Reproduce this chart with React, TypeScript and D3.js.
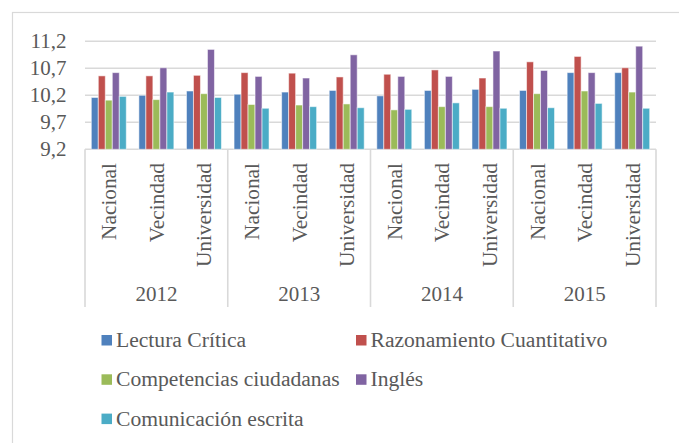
import { useEffect, useRef } from 'react'
import * as d3 from 'd3'

const years = ['2012', '2013', '2014', '2015']
const groups = ['Nacional', 'Vecindad', 'Universidad']
const yTicks = [9.2, 9.7, 10.2, 10.7, 11.2]

const seriesNames = [
  'Lectura Crítica',
  'Razonamiento Cuantitativo',
  'Competencias ciudadanas',
  'Inglés',
  'Comunicación escrita',
]
const seriesColors = ['#4F81BD', '#C0504D', '#9BBB59', '#8064A2', '#4BACC6']

// order: 2012 N,V,U, 2013 N,V,U, 2014 N,V,U, 2015 N,V,U
const lectura = [10.16, 10.2, 10.28, 10.22, 10.26, 10.29, 10.19, 10.29, 10.31, 10.29, 10.62, 10.62]
const razonamiento = [10.56, 10.56, 10.57, 10.62, 10.61, 10.54, 10.59, 10.67, 10.52, 10.82, 10.92, 10.71]
const competencias = [10.11, 10.12, 10.23, 10.03, 10.02, 10.04, 9.93, 9.99, 9.99, 10.23, 10.28, 10.26]
const ingles = [10.62, 10.71, 11.05, 10.55, 10.52, 10.95, 10.55, 10.55, 11.02, 10.66, 10.62, 11.11]
const comunicacion = [10.18, 10.26, 10.16, 9.96, 9.99, 9.97, 9.94, 10.06, 9.96, 9.97, 10.05, 9.96]

const seriesValues = [lectura, razonamiento, competencias, ingles, comunicacion]

export default function App() {
  const svgRef = useRef<SVGSVGElement>(null)

  useEffect(() => {
    const width = 679, height = 443
    const font = '"Liberation Serif", "Times New Roman", serif'
    const textColor = '#595959'
    const gridColor = '#d9d9d9'

    const svg = d3.select(svgRef.current)
    svg.selectAll('*').remove()
    svg.attr('width', width).attr('height', height)

    svg.append('rect')
      .attr('width', width).attr('height', height).attr('fill', 'white')

    // outer frame (right/bottom edges fall off the picture)
    svg.append('rect')
      .attr('x', 12.5).attr('y', 12.5)
      .attr('width', 720).attr('height', 520)
      .attr('fill', 'none').attr('stroke', gridColor).attr('stroke-width', 1.2)

    const left = 85, right = 656, top = 41.3, bottom = 149.3

    const categories = years.flatMap(y => groups.map(g => `${y}-${g}`))
    const x = d3.scaleBand().domain(categories).range([left, right])
    const inner = d3.scaleBand<number>()
      .domain(d3.range(seriesNames.length))
      .range([0, x.bandwidth()])
      .paddingOuter(0.9)
    const y = d3.scaleLinear().domain([9.2, 11.2]).range([bottom, top])

    // gridlines
    svg.append('g').selectAll('line')
      .data(yTicks)
      .enter().append('line')
      .attr('x1', left).attr('x2', right)
      .attr('y1', d => y(d)).attr('y2', d => y(d))
      .attr('stroke', gridColor).attr('stroke-width', 1.6)

    // y labels
    svg.append('g').selectAll('text')
      .data(yTicks)
      .enter().append('text')
      .attr('x', 66.5).attr('y', d => y(d))
      .attr('dy', '0.33em')
      .attr('text-anchor', 'end')
      .attr('font-family', font).attr('font-size', 21)
      .attr('fill', textColor)
      .text(d => d3.format('.1f')(d).replace('.', ','))

    // bars
    seriesValues.forEach((vals, si) => {
      svg.append('g').selectAll('rect')
        .data(vals)
        .enter().append('rect')
        .attr('x', (d, i) => x(categories[i])! + inner(si)!)
        .attr('y', d => y(d))
        .attr('width', inner.bandwidth())
        .attr('height', d => bottom - y(d))
        .attr('fill', seriesColors[si])
        .attr('stroke', 'rgba(255,255,255,0.55)')
        .attr('stroke-width', 1)
    })

    // group separators
    const sepX = years.map(yr => x(`${yr}-${groups[0]}`)!).concat([right])
    svg.append('g').selectAll('line')
      .data(sepX)
      .enter().append('line')
      .attr('x1', d => d).attr('x2', d => d)
      .attr('y1', bottom).attr('y2', 307)
      .attr('stroke', gridColor).attr('stroke-width', 1.6)

    // category labels (rotated)
    svg.append('g').selectAll('text')
      .data(categories)
      .enter().append('text')
      .attr('transform', d => `translate(${x(d)! + x.bandwidth() / 2},163) rotate(-90)`)
      .attr('dy', '0.35em')
      .attr('text-anchor', 'end')
      .attr('font-family', font).attr('font-size', 21.3)
      .attr('fill', textColor)
      .text(d => d.split('-')[1])

    // year labels
    svg.append('g').selectAll('text')
      .data(years)
      .enter().append('text')
      .attr('x', d => x(`${d}-${groups[1]}`)! + x.bandwidth() / 2)
      .attr('y', 301)
      .attr('text-anchor', 'middle')
      .attr('font-family', font).attr('font-size', 21)
      .attr('fill', textColor)
      .text(d => d)

    // legend
    const legend = svg.append('g')
    seriesNames.forEach((name, i) => {
      const col = i % 2, row = Math.floor(i / 2)
      const lx = 101.5 + col * 254.5
      const ly = 335 + row * 39.3
      legend.append('rect')
        .attr('x', lx).attr('y', ly)
        .attr('width', 10.5).attr('height', 10.5)
        .attr('fill', seriesColors[i])
      legend.append('text')
        .attr('x', lx + 14.5).attr('y', ly + 12)
        .attr('font-family', font).attr('font-size', 21.6)
        .attr('fill', textColor)
        .text(name)
    })
  }, [])

  return (
    <div style={{ position: 'absolute', left: 0, top: 0 }}>
      <svg ref={svgRef} style={{ display: 'block' }} />
    </div>
  )
}
